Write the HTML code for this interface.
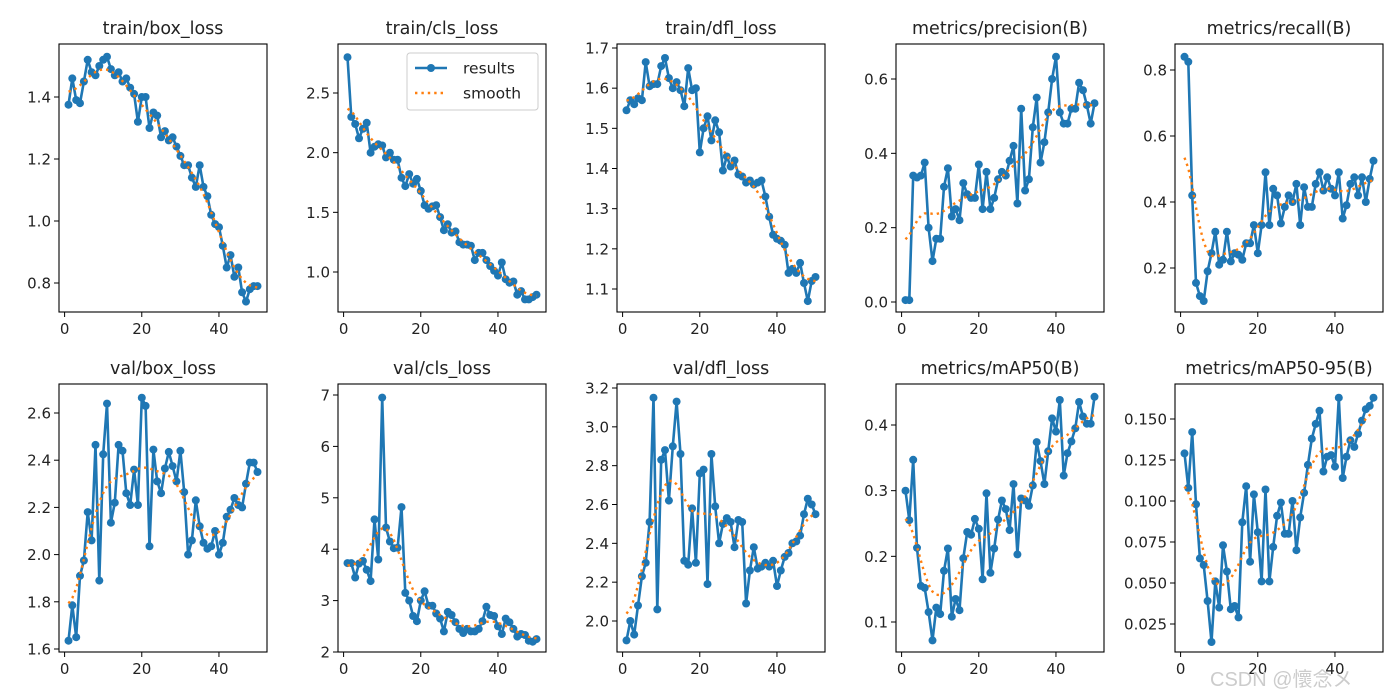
<!DOCTYPE html>
<html><head><meta charset="utf-8">
<style>
html,body{margin:0;padding:0;background:#fff;width:1400px;height:700px;overflow:hidden}
svg{display:block}
text{font-family:"DejaVu Sans","Liberation Sans",sans-serif;fill:#222}
</style></head>
<body>
<svg id="s" width="1400" height="700" xmlns="http://www.w3.org/2000/svg"></svg>
<script>
const P=[
{t:"train/box_loss",c:0,r:0,ticks:[0.8,1.0,1.2,1.4],dec:1,a:[0.8,283],b:[1.4,97],
d:[1.375,1.46,1.39,1.38,1.45,1.52,1.48,1.47,1.50,1.52,1.53,1.49,1.47,1.48,1.45,1.46,1.43,1.41,1.32,1.40,1.40,1.30,1.35,1.34,1.27,1.29,1.26,1.27,1.24,1.21,1.18,1.18,1.14,1.11,1.18,1.11,1.08,1.02,0.99,0.98,0.92,0.85,0.89,0.82,0.85,0.77,0.74,0.78,0.79,0.79]},
{t:"train/cls_loss",c:1,r:0,ticks:[1.0,1.5,2.0,2.5],dec:1,a:[1.0,272],b:[2.5,93],legend:1,
d:[2.8,2.3,2.24,2.12,2.2,2.25,2.0,2.05,2.07,2.06,1.96,2.0,1.94,1.94,1.79,1.72,1.82,1.74,1.78,1.68,1.56,1.53,1.55,1.56,1.46,1.35,1.40,1.33,1.34,1.25,1.23,1.23,1.22,1.10,1.16,1.16,1.10,1.05,1.01,0.97,1.08,0.94,0.91,0.92,0.81,0.84,0.77,0.77,0.79,0.81]},
{t:"train/dfl_loss",c:2,r:0,ticks:[1.1,1.2,1.3,1.4,1.5,1.6,1.7],dec:1,a:[1.1,289],b:[1.7,48],
d:[1.545,1.57,1.56,1.575,1.57,1.665,1.605,1.61,1.61,1.655,1.675,1.625,1.60,1.615,1.595,1.555,1.65,1.595,1.60,1.44,1.50,1.53,1.47,1.52,1.49,1.395,1.43,1.405,1.42,1.385,1.38,1.365,1.37,1.36,1.365,1.37,1.33,1.28,1.235,1.225,1.22,1.21,1.14,1.15,1.14,1.165,1.115,1.07,1.12,1.13]},
{t:"metrics/precision(B)",c:3,r:0,ticks:[0,0.2,0.4,0.6],dec:1,a:[0,302],b:[0.6,79],
d:[0.005,0.005,0.34,0.335,0.34,0.375,0.2,0.11,0.17,0.17,0.31,0.36,0.23,0.25,0.22,0.32,0.29,0.28,0.28,0.37,0.25,0.35,0.25,0.28,0.33,0.35,0.34,0.38,0.42,0.265,0.52,0.30,0.33,0.47,0.55,0.375,0.43,0.51,0.60,0.66,0.51,0.48,0.48,0.52,0.52,0.59,0.57,0.53,0.48,0.535]},
{t:"metrics/recall(B)",c:4,r:0,ticks:[0.2,0.4,0.6,0.8],dec:1,a:[0.2,268],b:[0.8,70],
d:[0.84,0.825,0.42,0.155,0.115,0.10,0.19,0.245,0.31,0.21,0.225,0.31,0.22,0.245,0.24,0.225,0.275,0.275,0.33,0.245,0.33,0.49,0.33,0.44,0.42,0.335,0.385,0.42,0.40,0.455,0.33,0.445,0.385,0.385,0.455,0.49,0.435,0.475,0.44,0.42,0.49,0.35,0.39,0.455,0.475,0.42,0.475,0.40,0.47,0.525]},
{t:"val/box_loss",c:0,r:1,ticks:[1.6,1.8,2.0,2.2,2.4,2.6],dec:1,a:[1.6,649],b:[2.6,413],
d:[1.635,1.785,1.65,1.91,1.975,2.18,2.06,2.465,1.89,2.425,2.64,2.135,2.22,2.465,2.44,2.26,2.21,2.36,2.21,2.665,2.63,2.035,2.445,2.31,2.26,2.365,2.435,2.375,2.31,2.44,2.265,2.0,2.06,2.23,2.12,2.05,2.025,2.035,2.1,2.0,2.05,2.16,2.19,2.24,2.21,2.2,2.30,2.39,2.39,2.35]},
{t:"val/cls_loss",c:1,r:1,ticks:[2,3,4,5,6,7],dec:0,a:[2,652],b:[7,395],
d:[3.73,3.73,3.45,3.72,3.77,3.6,3.38,4.58,3.8,6.95,4.42,4.15,4.02,4.03,4.82,3.15,3.0,2.7,2.6,3.0,3.18,2.9,2.9,2.75,2.65,2.4,2.78,2.72,2.58,2.45,2.37,2.45,2.4,2.4,2.45,2.6,2.88,2.72,2.7,2.5,2.35,2.65,2.58,2.45,2.3,2.35,2.33,2.22,2.2,2.25]},
{t:"val/dfl_loss",c:2,r:1,ticks:[2.0,2.2,2.4,2.6,2.8,3.0,3.2],dec:1,a:[2.0,621],b:[3.2,388],
d:[1.9,2.0,1.93,2.08,2.23,2.3,2.51,3.15,2.06,2.83,2.88,2.62,2.9,3.13,2.86,2.31,2.29,2.58,2.3,2.76,2.78,2.19,2.86,2.59,2.4,2.5,2.53,2.51,2.38,2.52,2.51,2.09,2.26,2.38,2.27,2.28,2.3,2.28,2.31,2.18,2.26,2.33,2.35,2.4,2.41,2.44,2.55,2.63,2.6,2.55]},
{t:"metrics/mAP50(B)",c:3,r:1,ticks:[0.1,0.2,0.3,0.4],dec:1,a:[0.1,622],b:[0.4,425],
d:[0.30,0.255,0.347,0.213,0.155,0.152,0.115,0.072,0.122,0.112,0.178,0.212,0.108,0.135,0.118,0.197,0.237,0.233,0.257,0.242,0.165,0.296,0.175,0.212,0.256,0.285,0.272,0.24,0.31,0.203,0.288,0.285,0.277,0.308,0.374,0.345,0.31,0.36,0.41,0.39,0.438,0.323,0.357,0.375,0.395,0.435,0.413,0.402,0.402,0.443]},
{t:"metrics/mAP50-95(B)",c:4,r:1,ticks:[0.025,0.05,0.075,0.1,0.125,0.15],dec:3,a:[0.025,624],b:[0.15,419],
d:[0.129,0.108,0.142,0.098,0.065,0.061,0.039,0.014,0.051,0.035,0.073,0.057,0.034,0.036,0.029,0.087,0.109,0.063,0.104,0.081,0.051,0.107,0.051,0.072,0.091,0.099,0.08,0.08,0.1,0.07,0.09,0.105,0.122,0.138,0.147,0.155,0.118,0.127,0.128,0.121,0.163,0.114,0.127,0.137,0.133,0.141,0.149,0.156,0.158,0.163]}
];
function smooth(d,s){const n=d.length,R=Math.ceil(4*s),o=[];
 const g=i=>{while(i<0||i>=n){if(i<0)i=-i-1;if(i>=n)i=2*n-i-1;}return d[i];};
 for(let i=0;i<n;i++){let a=0,w=0;for(let k=-R;k<=R;k++){const ww=Math.exp(-k*k/(2*s*s));a+=ww*g(i+k);w+=ww;}o.push(a/w);}return o;}
let h="";
const L=[59,338,617,896,1175],T=[44,384],W=208,H=268;
for(const p of P){
 const x0=L[p.c],y0=T[p.r];
 const X=e=>x0+(e+1.45)*W/53.9;
 const Y=v=>p.a[1]+(v-p.a[0])*(p.b[1]-p.a[1])/(p.b[0]-p.a[0]);
 h+=`<text x="${x0+W/2}" y="${y0-10}" font-size="17.5" text-anchor="middle">${p.t}</text>`;
 h+=`<rect x="${x0}" y="${y0}" width="${W}" height="${H}" fill="none" stroke="#000" stroke-width="1.1"/>`;
 for(const e of [0,20,40]){const x=X(e);h+=`<line x1="${x}" x2="${x}" y1="${y0+H}" y2="${y0+H+5}" stroke="#000"/><text x="${x}" y="${y0+H+22}" font-size="15" text-anchor="middle">${e}</text>`;}
 for(const v of p.ticks){const y=Y(v);h+=`<line x1="${x0-5}" x2="${x0}" y1="${y}" y2="${y}" stroke="#000"/><text x="${x0-8}" y="${y+5.5}" font-size="15" text-anchor="end">${v.toFixed(p.dec)}</text>`;}
 const pts=p.d.map((v,i)=>[X(i+1),Y(v)]);
 h+=`<polyline points="${pts.map(q=>q[0].toFixed(1)+","+q[1].toFixed(1)).join(" ")}" fill="none" stroke="#1f77b4" stroke-width="2.6" stroke-linejoin="round"/>`;
 for(const q of pts)h+=`<circle cx="${q[0].toFixed(1)}" cy="${q[1].toFixed(1)}" r="4" fill="#1f77b4"/>`;
 const sm=smooth(p.d,3);
 h+=`<polyline points="${sm.map((v,i)=>X(i+1).toFixed(1)+","+Y(v).toFixed(1)).join(" ")}" fill="none" stroke="#ff7f0e" stroke-width="2.4" stroke-dasharray="2.4 4"/>`;
 if(p.legend){
  h+=`<rect x="407" y="53" width="131" height="57" rx="3" fill="#fff" fill-opacity="0.85" stroke="#ccc"/>`;
  h+=`<line x1="415" x2="447" y1="68" y2="68" stroke="#1f77b4" stroke-width="2.6"/><circle cx="431" cy="68" r="4" fill="#1f77b4"/>`;
  h+=`<text x="463" y="73.5" font-size="15.5">results</text>`;
  h+=`<line x1="415" x2="447" y1="93" y2="93" stroke="#ff7f0e" stroke-width="2.4" stroke-dasharray="2.4 4"/>`;
  h+=`<text x="463" y="98.5" font-size="15.5">smooth</text>`;
 }
}
h+=`<text x="1210" y="686" font-size="20" style="fill:#ccc;font-family:'Liberation Sans','Noto Sans CJK JP',sans-serif">CSDN @懷念メ</text>`;
document.getElementById("s").innerHTML=h;
</script>
</body></html>
